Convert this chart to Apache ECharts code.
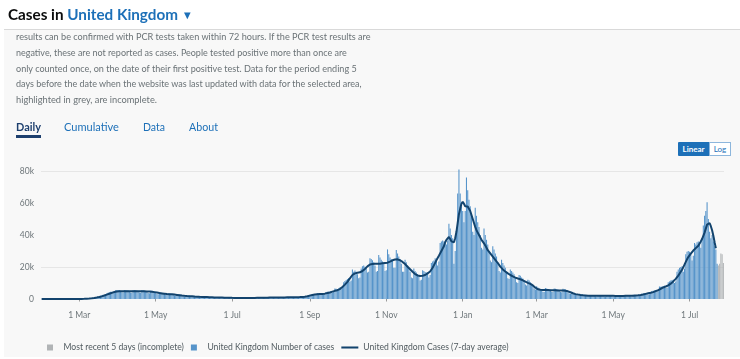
<!DOCTYPE html>
<html><head><meta charset="utf-8">
<script src="https://cdn.jsdelivr.net/npm/echarts@6/dist/echarts.min.js"></script>
<style>
html,body{margin:0;padding:0;width:740px;height:359px;overflow:hidden;background:#fff;font-family:Lato,"Noto Sans",sans-serif;}
#panel{position:absolute;left:4px;top:29px;width:736px;height:327px;background:#f8f8f8;border-top:1px solid #d9d9d9;}
#chart{position:absolute;left:0;top:0;width:740px;height:359px;}
.t{position:absolute;white-space:nowrap;line-height:1.2;transform:translateY(-50%);}
.p{color:#6a7276;font-size:9px;}
.tab{font-size:12px;color:#1d70b8;}
#lin{position:absolute;left:678px;top:142px;width:31px;height:14px;background:#1d70b8;color:#fff;font-weight:bold;font-size:8px;text-align:center;line-height:14px;border-radius:1px 0 0 1px;}
#log{position:absolute;left:709px;top:142px;width:20px;height:12px;background:#fff;color:#1d70b8;font-size:8px;text-align:center;line-height:12px;border:1px solid #8db6dc;}
</style></head>
<body>
<div id="panel"></div>
<div id="chart"></div>
<div class="t" data-w="185" style="left:8px;top:14px;font-size:17px;font-weight:bold;color:#0b0c0c;">Cases in <span style="color:#1d70b8">United Kingdom <span style="font-size:0.74em;vertical-align:0.1em;">▼</span></span></div>
<div class="t p" data-w="355" style="left:16px;top:37px;">results can be confirmed with PCR tests taken within 72 hours. If the PCR test results are</div>
<div class="t p" data-w="331" style="left:16px;top:53px;">negative, these are not reported as cases. People tested positive more than once are</div>
<div class="t p" data-w="341" style="left:16px;top:68.5px;">only counted once, on the date of their first positive test. Data for the period ending 5</div>
<div class="t p" data-w="346" style="left:16px;top:84px;">days before the date when the website was last updated with data for the selected area,</div>
<div class="t p" data-w="141" style="left:16px;top:100px;">highlighted in grey, are incomplete.</div>
<div class="t tab" data-w="25" style="left:16px;top:127px;font-weight:bold;color:#1d3f6e;">Daily</div>
<div style="position:absolute;left:16px;top:135px;width:25px;height:2.5px;background:#1d3f6e;"></div>
<div class="t tab" data-w="55" style="left:64px;top:127px;">Cumulative</div>
<div class="t tab" data-w="22" style="left:143px;top:127px;">Data</div>
<div class="t tab" data-w="29" style="left:189px;top:127px;">About</div>
<div id="lin">Linear</div><div id="log">Log</div>
<script>
// First date of the series (Friday 31 Jan 2020); one value per day, in thousands of cases
const startDate = '2020-01-31';
const incompleteDays = 5;
// Daily number of cases (thousands), rows of 7 days starting on Fridays
const cases = [
0.002,0,0,0,0,0,0.001,
0,0.001,0,0.001,0.002,0,0.003,
0.002,0,0.001,0.002,0.003,0.004,0.003,
0.005,0.004,0.006,0.01,0.012,0.015,0.018,
0.03,0.03,0.05,0.09,0.11,0.14,0.18,
0.25,0.22,0.28,0.5,0.6,0.7,0.85,
1.0,0.95,1.05,1.7,1.9,2.1,2.3,
2.6,2.3,2.4,3.6,3.9,4.2,4.5,
4.5,3.9,4.0,5.5,5.6,5.7,5.6,
5.1,4.2,4.0,5.6,5.5,5.4,5.3,
4.6,4.0,3.9,5.4,5.6,5.5,5.3,
4.9,4.1,3.9,5.5,5.4,5.2,5.0,
4.7,3.8,3.6,5.2,5.1,4.9,4.6,
4.0,3.1,2.9,4.2,4.1,3.9,3.7,
3.3,2.6,2.5,3.6,3.5,3.3,3.2,
2.8,2.2,2.1,3.1,3.0,2.8,2.6,
2.1,1.7,1.6,2.4,2.3,2.2,2.1,
1.7,1.4,1.3,2.0,1.9,1.8,1.7,
1.4,1.1,1.1,1.6,1.5,1.5,1.4,
1.2,0.9,0.9,1.3,1.2,1.2,1.1,
0.95,0.75,0.7,1.1,1.0,0.95,0.9,
0.8,0.6,0.6,0.9,0.85,0.8,0.75,
0.7,0.55,0.55,0.8,0.78,0.72,0.7,
0.65,0.52,0.52,0.8,0.76,0.72,0.7,
0.68,0.55,0.56,0.86,0.82,0.78,0.75,
0.75,0.6,0.62,0.98,0.92,0.88,0.85,
0.88,0.7,0.7,1.1,1.05,1.0,0.95,
0.95,0.75,0.75,1.2,1.12,1.06,1.02,
1.0,0.8,0.82,1.3,1.22,1.16,1.12,
1.1,0.9,0.95,1.45,1.4,1.35,1.35,
1.5,1.3,1.4,2.5,2.6,2.7,2.8,
2.9,2.4,2.5,3.7,3.5,3.4,3.3,
3.2,2.7,2.9,4.4,4.6,4.5,4.6,
4.9,4.1,4.3,6.5,6.4,6.3,6.5,
7.2,6.3,7.5,10.5,11.2,11.8,12.5,
13.2,11.0,11.5,18.5,17.0,17.8,17.0,
15.5,13.0,13.5,19.0,20.5,21.0,20.2,
20.0,16.5,17.0,25.4,25.0,24.2,23.0,
21.0,17.0,17.5,27.5,26.0,24.5,23.5,
22.5,17.5,18.0,31.0,28.0,26.0,25.0,
24.0,19.5,19.5,30.6,28.5,26.5,24.8,
22.0,17.0,17.0,24.5,23.0,21.0,19.5,
17.0,13.5,13.0,19.0,17.5,16.5,15.5,
14.0,11.5,12.0,18.0,17.5,16.8,16.5,
16.5,13.5,15.0,22.5,23.5,24.0,25.5,
24.5,21.0,23.5,35.0,36.0,36.5,36.0,
36.0,34.0,36.5,47.0,44.0,40.0,38.0,
22.0,30.0,42.0,66.0,81.0,66.0,58.0,
55.0,48.0,55.0,76.0,68.0,62.0,58.0,
52.0,42.0,40.0,57.0,52.0,48.0,45.0,
40.0,32.0,31.0,44.0,40.0,37.0,34.0,
30.0,24.0,23.0,33.0,31.0,28.5,26.5,
23.0,17.5,16.5,24.5,22.5,21.0,19.5,
17.0,13.0,12.5,18.5,17.5,16.5,15.5,
13.5,10.5,10.0,15.0,14.5,13.5,12.8,
11.5,9.0,8.5,12.0,11.5,10.5,9.5,
8.5,6.5,6.0,8.0,7.2,6.6,6.3,
6.0,4.6,4.4,6.8,6.6,6.3,6.0,
5.8,4.5,4.3,6.6,6.4,6.1,5.9,
5.7,4.4,4.2,6.4,6.2,6.0,5.0,
4.2,3.4,3.2,4.3,3.8,3.5,3.2,
2.6,2.2,2.0,2.6,2.9,2.8,2.6,
2.4,1.8,1.7,2.5,2.4,2.3,2.2,
2.3,1.7,1.6,2.5,2.4,2.3,2.2,
2.2,1.6,1.6,2.4,2.4,2.3,2.1,
2.1,1.6,1.5,1.8,2.4,2.4,2.2,
2.1,1.6,1.5,2.4,2.4,2.3,2.2,
2.2,1.7,1.6,2.6,2.6,2.5,2.5,
2.6,2.0,2.0,3.3,3.4,3.6,3.6,
3.7,2.8,2.9,3.8,5.0,5.2,5.3,
5.6,4.6,4.8,7.8,7.6,7.8,8.0,
8.3,6.8,7.0,10.5,11.0,11.5,11.8,
12.0,10.0,11.0,17.0,18.5,19.5,20.0,
20.5,17.0,19.0,28.0,29.5,30.0,29.5,
28.0,24.0,27.0,35.0,34.0,35.5,36.0,
34.0,32.0,38.0,46.0,52.0,55.0,60.5,
50.0,42.0,38.0,40.0,36.0,33.0,31.0,
22.0,21.0,22.0,28.5,28.0,22.5
];
// 7-day average of cases (thousands), same days; none for the latest days
const avg7 = [
0,0,0,0,0,0,0,
0,0,0,0.001,0.001,0.001,0.001,
0.001,0.001,0.002,0.002,0.002,0.002,0.002,
0.003,0.004,0.005,0.006,0.008,0.01,0.012,
0.02,0.03,0.04,0.05,0.07,0.09,0.12,
0.15,0.19,0.24,0.3,0.37,0.45,0.53,
0.63,0.75,0.88,1.05,1.25,1.45,1.65,
1.9,2.15,2.4,2.7,3.0,3.3,3.6,
3.85,4.1,4.35,4.55,4.7,4.78,4.82,
4.84,4.85,4.86,4.86,4.86,4.86,4.86,
4.86,4.86,4.86,4.86,4.86,4.86,4.86,
4.86,4.85,4.84,4.82,4.8,4.78,4.75,
4.73,4.7,4.67,4.62,4.55,4.45,4.3,
4.15,4.0,3.85,3.7,3.6,3.5,3.4,
3.3,3.2,3.1,3.05,3.0,2.95,2.9,
2.85,2.75,2.65,2.55,2.45,2.35,2.25,
2.15,2.05,1.98,1.92,1.86,1.8,1.75,
1.7,1.65,1.6,1.55,1.5,1.46,1.42,
1.38,1.35,1.32,1.28,1.25,1.22,1.19,
1.16,1.13,1.1,1.07,1.04,1.01,0.98,
0.95,0.93,0.9,0.88,0.86,0.84,0.82,
0.8,0.78,0.77,0.75,0.74,0.72,0.71,
0.7,0.69,0.68,0.67,0.67,0.66,0.66,
0.65,0.65,0.65,0.65,0.66,0.66,0.67,
0.68,0.69,0.7,0.71,0.72,0.73,0.74,
0.75,0.77,0.78,0.8,0.82,0.84,0.86,
0.88,0.89,0.9,0.91,0.92,0.93,0.94,
0.95,0.96,0.97,0.98,0.99,1.0,1.01,
1.02,1.03,1.04,1.06,1.08,1.1,1.12,
1.14,1.16,1.18,1.2,1.22,1.25,1.3,
1.4,1.55,1.7,1.9,2.1,2.3,2.5,
2.7,2.85,2.95,3.0,3.05,3.1,3.15,
3.2,3.25,3.35,3.5,3.7,3.9,4.1,
4.35,4.6,4.85,5.1,5.3,5.5,5.7,
6.2,6.8,7.5,8.2,9.0,9.8,10.7,
11.8,12.9,14.0,15.0,15.6,16.0,16.3,
16.4,16.5,16.7,17.1,17.5,18.0,18.8,
19.6,20.4,21.0,21.6,21.8,21.9,22.0,
22.0,22.0,22.0,22.0,22.1,22.2,22.3,
22.4,22.5,22.6,22.7,23.0,23.4,23.8,
24.2,24.5,24.7,24.8,24.8,24.6,24.2,
23.7,23.2,22.5,21.8,21.0,20.2,19.4,
18.6,17.8,17.0,16.2,15.6,15.1,14.7,
14.5,14.4,14.4,14.5,14.7,15.0,15.4,
16.0,16.6,17.2,18.2,19.5,21.0,22.6,
24.2,25.6,27.0,28.5,30.0,31.5,33.0,
35.5,36.9,38.0,38.8,37.5,36.0,35.3,
35.5,38.0,42.0,47.5,53.0,56.5,59.5,
60.8,59.5,58.0,57.5,57.8,57.0,55.0,
52.5,50.0,47.5,45.0,43.0,41.5,40.0,
38.5,37.0,36.0,34.8,33.5,32.0,30.5,
29.5,28.5,27.5,26.5,25.5,24.5,23.5,
22.5,21.5,20.2,19.3,18.5,17.8,17.2,
16.6,16.0,15.5,15.0,14.6,14.2,13.8,
13.4,13.1,12.8,12.5,12.3,12.0,11.7,
11.3,10.9,10.5,10.1,9.8,9.4,9.0,
8.5,7.8,7.1,6.5,6.1,5.9,5.8,
5.7,5.65,5.6,5.6,5.6,5.55,5.5,
5.5,5.45,5.4,5.4,5.4,5.35,5.3,
5.3,5.3,5.25,5.25,5.2,5.15,5.0,
4.8,4.5,4.2,3.9,3.6,3.3,3.05,
2.9,2.75,2.6,2.5,2.4,2.3,2.25,
2.2,2.15,2.1,2.1,2.1,2.1,2.1,
2.1,2.1,2.1,2.1,2.1,2.05,2.05,
2.05,2.0,2.0,2.0,2.0,2.0,2.0,
2.0,2.0,1.95,1.95,1.95,1.95,1.95,
1.95,1.95,1.95,1.95,2.0,2.0,2.0,
2.05,2.05,2.1,2.1,2.15,2.2,2.25,
2.3,2.4,2.5,2.65,2.8,3.0,3.2,
3.4,3.6,3.75,3.9,4.1,4.3,4.6,
4.9,5.2,5.5,6.0,6.4,6.8,7.2,
7.5,7.8,8.1,8.5,9.0,9.6,10.3,
11.0,11.8,12.6,13.5,14.6,15.8,17.0,
18.3,19.8,21.5,23.2,24.8,26.2,27.3,
28.3,29.3,30.3,31.0,31.8,32.5,33.3,
34.5,36.0,37.5,39.5,41.5,44.0,46.5,
47.7,47.5,45.5,43.0,39.5,35.5,31.7,
null,null,null,null,null,null
];
// X tick labels (first of every other month)
const xTickDates  = ['2020-03-01','2020-05-01','2020-07-01','2020-09-01','2020-11-01','2021-01-01','2021-03-01','2021-05-01','2021-07-01'];
const xTickLabels = ['1 Mar','1 May','1 Jul','1 Sep','1 Nov','1 Jan','1 Mar','1 May','1 Jul'];
const yTicks = [0, 20, 40, 60, 80];
const seriesNames = ['Most recent 5 days (incomplete)', 'United Kingdom Number of cases', 'United Kingdom Cases (7-day average)'];

// fit HTML text widths
document.querySelectorAll('[data-w]').forEach(el => {
  const target = +el.dataset.w;
  const w = el.getBoundingClientRect().width;
  const fs = parseFloat(getComputedStyle(el).fontSize);
  el.style.fontSize = (fs * target / w) + 'px';
});

// category dates (one per day)
const dates = [];
{
  const d0 = new Date(startDate + 'T00:00:00Z');
  for (let i = 0; i < cases.length; i++) {
    const d = new Date(d0.getTime() + i * 86400000);
    dates.push(d.toISOString().slice(0, 10));
  }
}
const n = cases.length;
const blueData = cases.map((v, i) => i < n - incompleteDays ? v : null);
const greyData = cases.map((v, i) => i >= n - incompleteDays ? v : null);
const tickSet = {};
xTickDates.forEach((d, i) => tickSet[d] = xTickLabels[i]);
const showTick = (idx, val) => tickSet.hasOwnProperty(val);

const sq = 'path://M0,0H10V10H0Z';
const ln = 'path://M0,0H100V12H0Z';
const chart = echarts.init(document.getElementById('chart'), null, {renderer: 'canvas'});
chart.setOption({
  animation: false,
  textStyle: {fontFamily: 'Lato, "Noto Sans", sans-serif'},
  grid: {left: 41, right: 16, top: 171, bottom: 60},
  xAxis: {
    type: 'category', data: dates, boundaryGap: true, offset: 8,
    axisLine: {show: false},
    axisTick: {show: true, alignWithLabel: true, interval: showTick, length: 2.5, lineStyle: {color: '#9a9a9a'}},
    axisLabel: {interval: showTick, formatter: v => tickSet[v] || '', fontSize: 8.5, color: '#6f777b', margin: 4}
  },
  yAxis: {
    type: 'value', min: yTicks[0], max: yTicks[yTicks.length - 1], interval: 20,
    axisLine: {show: false}, axisTick: {show: false},
    axisLabel: {formatter: v => v === 0 ? '0' : v + 'k', fontSize: 8.5, color: '#6f777b', margin: 7},
    splitLine: {lineStyle: {width: 1, color: ['rgba(0,0,0,0)', '#e6e6e6', 'rgba(0,0,0,0)', 'rgba(0,0,0,0)', '#e6e6e6']}}
  },
  legend: {
    left: 42, top: 338, itemWidth: 17, itemHeight: 6, itemGap: 7,
    textStyle: {fontSize: 8.6, color: '#505a5f'},
    data: [{name: seriesNames[0], icon: sq}, {name: seriesNames[1], icon: sq}, {name: seriesNames[2], icon: ln}]
  },
  series: [
    {name: seriesNames[0], type: 'bar', data: greyData, clip: false, barGap: '-100%', barCategoryGap: '15%',
     itemStyle: {color: '#b1b4b6'}},
    {name: seriesNames[1], type: 'bar', data: blueData, clip: false, barGap: '-100%', barCategoryGap: '15%',
     itemStyle: {color: '#5694ca'}},
    {name: seriesNames[2], type: 'line', data: avg7, showSymbol: false, symbol: 'none',
     lineStyle: {width: 2, color: '#12436d'}, itemStyle: {color: '#12436d'}, z: 5}
  ]
});
</script>
</body></html>
